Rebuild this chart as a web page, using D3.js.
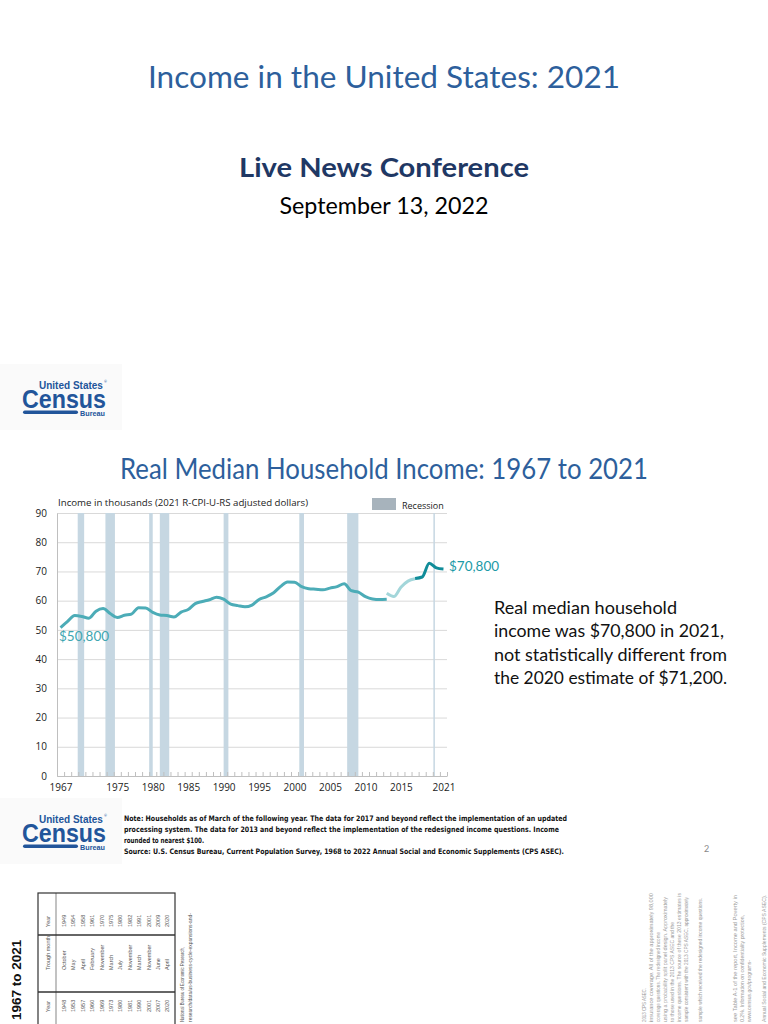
<!DOCTYPE html>
<html>
<head>
<meta charset="utf-8">
<title>Real Median Household Income: 1967 to 2021</title>
<script src="https://cdn.jsdelivr.net/npm/d3@7"></script>
<style>
  html, body { margin: 0; padding: 0; background: #fff; }
  svg { display: block; }
  text { font-family: Lato, "Open Sans", sans-serif; }
</style>
</head>
<body>
<div id="page"></div>
<script>
// Median household income, thousands of 2021 R-CPI-U-RS dollars
// (three pieces, like the Census chart: old questions, redesign, updated processing)
const yearsOld = [1967, 1968, 1969, 1970, 1971, 1972, 1973, 1974, 1975, 1976, 1977, 1978, 1979,
    1980, 1981, 1982, 1983, 1984, 1985, 1986, 1987, 1988, 1989, 1990, 1991, 1992, 1993, 1994,
    1995, 1996, 1997, 1998, 1999, 2000, 2001, 2002, 2003, 2004, 2005, 2006, 2007, 2008, 2009,
    2010, 2011, 2012, 2013];
const incomeOld = [50.8, 52.9, 54.9, 54.6, 54.0, 56.4, 57.3, 55.6, 54.2, 55.0, 55.4, 57.6, 57.5,
    56.0, 55.1, 54.9, 54.4, 56.1, 57.0, 59.0, 59.7, 60.3, 61.2, 60.5, 58.8, 58.3, 57.9, 58.5,
    60.4, 61.3, 62.6, 64.8, 66.4, 66.3, 64.8, 64.1, 63.9, 63.7, 64.3, 64.8, 65.8, 63.4, 62.9,
    61.4, 60.6, 60.4, 60.5];
const yearsRedesign = [2013, 2014, 2015, 2016, 2017];
const incomeRedesign = [62.5, 61.4, 64.6, 66.7, 67.5];
const yearsUpdated = [2017, 2018, 2019, 2020, 2021];
const incomeUpdated = [67.6, 68.1, 72.8, 71.2, 70.8];

// Recessions (peak and trough months as decimal years)
const recessionStart = [1969.92, 1973.83, 1980.0, 1981.5, 1990.5, 2001.17, 2007.92, 2020.08];
const recessionEnd = [1970.83, 1975.17, 1980.5, 1982.83, 1991.17, 2001.83, 2009.5, 2020.25];

// Axis ticks
const yTicks = [0, 10, 20, 30, 40, 50, 60, 70, 80, 90];
const xLabelYears = [1967, 1975, 1980, 1985, 1990, 1995, 2000, 2005, 2010, 2015, 2021];

// Business cycle table on the next (rotated) page
const peakYears = [1948, 1953, 1957, 1960, 1969, 1973, 1980, 1981, 1990, 2001, 2007, 2020];
const troughMonths = ["October", "May", "April", "February", "November", "March", "July",
    "November", "March", "November", "June", "April"];
const troughYears = [1949, 1954, 1958, 1961, 1970, 1975, 1980, 1982, 1991, 2001, 2009, 2020];

const blue = "#2d5f9c";
const censusBlue = "#22559a";

const svg = d3.select("#page")
    .append("svg")
    .attr("width", 768)
    .attr("height", 1024);

// Centered slide text squeezed to the width it has in the original
function slideText(txt, y, size, width, opts = {}) {
    return svg.append("text")
        .attr("x", 384 - width / 2)
        .attr("y", y)
        .attr("textLength", width)
        .attr("lengthAdjust", "spacingAndGlyphs")
        .style("font-size", size + "px")
        .style("font-weight", opts.bold ? "700" : "400")
        .style("fill", opts.color || "#000")
        .text(txt);
}

// Text squeezed sideways with a transform so its box is the real width
function squeezed(g, txt, tx, ty, size, width) {
    const t = g.append("text")
        .style("font-family", "'Liberation Sans', Arial, sans-serif")
        .style("font-weight", "700")
        .style("font-size", size + "px")
        .text(txt);
    const k = width / t.node().getComputedTextLength();
    t.attr("transform", `translate(${tx},${ty}) scale(${k},1)`);
    return t;
}

// Census logo drawn from text
function drawLogo(dx, dy) {
    const g = svg.append("g")
        .attr("transform", `translate(${dx},${dy})`)
        .style("fill", censusBlue);
    g.append("rect")
        .attr("x", -22).attr("y", -25)
        .attr("width", 122).attr("height", 66)
        .style("fill", "#fafafa");
    squeezed(g, "United States", 17, 0, 11.5, 64);
    g.append("text")
        .attr("x", 82).attr("y", -6)
        .style("font-size", "3.5px")
        .text("®");
    squeezed(g, "Census", 0, 19, 26, 84);
    g.append("rect")
        .attr("x", 1).attr("y", 21.5)
        .attr("width", 55).attr("height", 3.5).attr("rx", 1.75);
    squeezed(g, "Bureau", 58, 26.5, 6.5, 25);
}

// ---------- Slide 1 ----------
slideText("Income in the United States: 2021", 88, 31, 472, { color: blue });
slideText("Live News Conference", 177, 27, 290, { bold: true, color: "#1f3864" });
slideText("September 13, 2022", 214, 23, 209);

// ---------- Slide 2 ----------
drawLogo(22, 389);
slideText("Real Median Household Income: 1967 to 2021", 479, 28, 528, { color: blue });

// Chart area
const plotLeft = 57, plotRight = 447, plotTop = 513, plotBottom = 776;

const x = d3.scaleLinear()
    .domain([1967, 2022])
    .range([plotLeft, plotRight]);

const y = d3.scaleLinear()
    .domain([0, 90])
    .range([plotBottom, plotTop]);

const chart = svg.append("g");

// Horizontal gridlines
chart.append("g")
    .attr("transform", `translate(${plotLeft},0)`)
    .call(d3.axisLeft(y).tickValues(yTicks).tickSize(-(plotRight - plotLeft)).tickFormat(""))
    .call(g => g.select(".domain").remove())
    .call(g => g.selectAll(".tick line").style("stroke", "#d9d9d9"));

// Recession bars
chart.append("g")
    .selectAll("rect")
    .data(recessionStart)
    .join("rect")
    .attr("x", d => x(d))
    .attr("y", plotTop)
    .attr("width", (d, i) => Math.max(1.5, x(recessionEnd[i]) - x(d)))
    .attr("height", plotBottom - plotTop)
    .style("fill", "#c6d7e2");

// Y axis labels
chart.append("g")
    .attr("transform", `translate(${plotLeft},0)`)
    .call(d3.axisLeft(y).tickValues(yTicks).tickSize(0).tickPadding(10))
    .call(g => g.select(".domain").style("stroke", "#bfbfbf"))
    .call(g => g.selectAll("text")
        .style("font-family", "'Open Sans', sans-serif")
        .style("font-size", "10px")
        .style("fill", "#222"));

// X axis: a tick at every year boundary
chart.append("g")
    .attr("transform", `translate(0,${plotBottom})`)
    .call(d3.axisBottom(x).tickValues(d3.range(1967, 2023)).tickSizeInner(-4).tickSizeOuter(0).tickFormat(""))
    .call(g => g.select(".domain").style("stroke", "#bfbfbf"))
    .call(g => g.selectAll(".tick line").style("stroke", "#bfbfbf"));

// X labels at the middle of each year
chart.append("g")
    .attr("transform", `translate(0,${plotBottom})`)
    .call(d3.axisBottom(x).tickValues(xLabelYears.map(d => d + 0.5)).tickSize(0).tickPadding(8)
        .tickFormat(d => Math.floor(d)))
    .call(g => g.select(".domain").remove())
    .call(g => g.selectAll("text")
        .style("font-family", "'Open Sans', sans-serif")
        .style("font-size", "10px")
        .style("fill", "#222"));

// Income lines
const line = d3.line()
    .x(d => x(d[0] + 0.5))
    .y(d => y(d[1]))
    .curve(d3.curveMonotoneX);

const series = [
    { years: yearsOld, values: incomeOld, color: "#4cacb7" },
    { years: yearsRedesign, values: incomeRedesign, color: "#a3d6da" },
    { years: yearsUpdated, values: incomeUpdated, color: "#108c99" }
];

chart.append("g")
    .selectAll("path")
    .data(series)
    .join("path")
    .attr("d", s => line(s.years.map((yr, i) => [yr, s.values[i]])))
    .style("fill", "none")
    .style("stroke", s => s.color)
    .style("stroke-width", 3)
    .style("stroke-linejoin", "round");

// End labels
chart.append("text")
    .attr("x", 59).attr("y", y(incomeOld[0]) + 13)
    .style("font-size", "13.5px")
    .style("fill", "#3ea6b1")
    .text("$" + d3.format(",")(incomeOld[0] * 1000));

chart.append("text")
    .attr("x", 449).attr("y", y(incomeUpdated[incomeUpdated.length - 1]) + 2)
    .style("font-size", "13.5px")
    .style("fill", "#1b9aa7")
    .text("$" + d3.format(",")(Math.round(incomeUpdated[incomeUpdated.length - 1] * 1000)));

// Axis title and legend
chart.append("text")
    .attr("x", 58).attr("y", 506)
    .attr("textLength", 250).attr("lengthAdjust", "spacingAndGlyphs")
    .style("font-family", "'Open Sans', sans-serif")
    .style("font-size", "9px")
    .style("fill", "#222")
    .text("Income in thousands (2021 R-CPI-U-RS adjusted dollars)");

chart.append("rect")
    .attr("x", 372).attr("y", 498)
    .attr("width", 24).attr("height", 12)
    .style("fill", "#a7b3bc");

chart.append("text")
    .attr("x", 402).attr("y", 509)
    .style("font-family", "'Open Sans', sans-serif")
    .style("font-size", "9px")
    .style("fill", "#222")
    .text("Recession");

// Side note
const noteLines = [
    ["Real median household", 183],
    ["income was $70,800 in 2021,", 230],
    ["not statistically different from", 233],
    ["the 2020 estimate of $71,200.", 233]
];
svg.append("g")
    .selectAll("text")
    .data(noteLines)
    .join("text")
    .attr("x", 494)
    .attr("y", (d, i) => 614 + i * 23.3)
    .attr("textLength", d => d[1])
    .attr("lengthAdjust", "spacingAndGlyphs")
    .style("font-size", "17.5px")
    .style("fill", "#111")
    .text(d => d[0]);

// Footer
drawLogo(22, 823);

const footLines = [
    ["Note: Households as of March of the following year. The data for 2017 and beyond reflect the implementation of an updated", 443],
    ["processing system. The data for 2013 and beyond reflect the implementation of the redesigned income questions. Income", 435],
    ["rounded to nearest $100.", 80],
    ["Source: U.S. Census Bureau, Current Population Survey, 1968 to 2022 Annual Social and Economic Supplements (CPS ASEC).", 440]
];
svg.append("g")
    .selectAll("text")
    .data(footLines)
    .join("text")
    .attr("x", 124)
    .attr("y", (d, i) => 821 + i * 11)
    .attr("textLength", d => d[1])
    .attr("lengthAdjust", "spacingAndGlyphs")
    .style("font-family", "'DejaVu Sans', sans-serif")
    .style("font-weight", "700")
    .style("font-size", "7.5px")
    .style("fill", "#111")
    .text(d => d[0]);

svg.append("text")
    .attr("x", 704).attr("y", 852)
    .style("font-size", "9px")
    .style("fill", "#888")
    .text("2");

// ---------- Next page, printed sideways ----------
function sideText(txt, bx, by, size, opts = {}) {
    const t = svg.append("text")
        .attr("transform", `translate(${bx},${by}) rotate(-90)`)
        .style("font-family", "'Liberation Sans', Arial, sans-serif")
        .style("font-weight", opts.bold ? "700" : "400")
        .style("font-size", size + "px")
        .style("fill", opts.color || "#555")
        .text(txt);
    if (opts.length) t.attr("textLength", opts.length).attr("lengthAdjust", "spacingAndGlyphs");
    return t;
}

sideText("1967 to 2021", 21, 1020, 13.5, { bold: true, color: "#111" });

// Table frame
const tbl = svg.append("g").style("stroke", "#333").style("fill", "none");
tbl.append("rect").attr("x", 38).attr("y", 893).attr("width", 137).attr("height", 140).style("stroke-width", 1.2);
tbl.append("line").attr("x1", 38).attr("x2", 175).attr("y1", 935).attr("y2", 935).style("stroke-width", 1.6);
tbl.append("line").attr("x1", 38).attr("x2", 175).attr("y1", 992).attr("y2", 992).style("stroke-width", 1.6);
tbl.append("line").attr("x1", 56).attr("x2", 56).attr("y1", 893).attr("y2", 1024).style("stroke-width", 0.6);

sideText("Year", 50, 927, 5.5);
sideText("Trough month", 50, 970, 5.5);
sideText("Year", 50, 1012, 5.5);

peakYears.forEach((yr, i) => {
    const bx = 66 + i * 9.4;
    sideText(troughYears[i], bx, 927, 5.5);
    sideText(troughMonths[i], bx, 970, 5.5);
    sideText(yr, bx, 1012, 5.5);
});

// Lines that run off the bottom of the page: only the visible part, from the edge up to its top
const pageEdge = 1022;
const tableNotes = [
    ["National Bureau of Economic Research,", 184, 947],
    ["research/data/us-business-cycle-expansions-and-", 192, 913]
];
tableNotes.forEach(d => sideText(d[0], d[1], pageEdge, 5, { length: pageEdge - d[2] }));

// Faint notes on the right edge of that page
const sideNotes = [
    ["2013 CPS ASEC.", 646, 988],
    ["insurance coverage. All of the approximately 98,000", 653, 893],
    ["coverage questions. The redesigned income", 660, 932],
    ["using a probability split panel design. Approximately", 667, 897],
    ["to those used in the 2013 CPS ASEC and the", 674, 922],
    ["income questions. The source of these 2013 estimates is", 681, 893],
    ["sample consistent with the 2013 CPS ASEC, approximately", 688, 897],
    ["sample which received the redesigned income questions.", 702, 898],
    ["see Table A-1 of the report, Income and Poverty in", 737, 895],
    ["0.2%. Information on confidentiality protection,", 744, 915],
    ["www.census.gov/programs-", 751, 960],
    ["Annual Social and Economic Supplements (CPS ASEC).", 766, 895]
];
sideNotes.forEach(d => sideText(d[0], d[1], pageEdge, 5, { color: "#9a9a9a", length: pageEdge - d[2] }));
</script>
</body>
</html>
